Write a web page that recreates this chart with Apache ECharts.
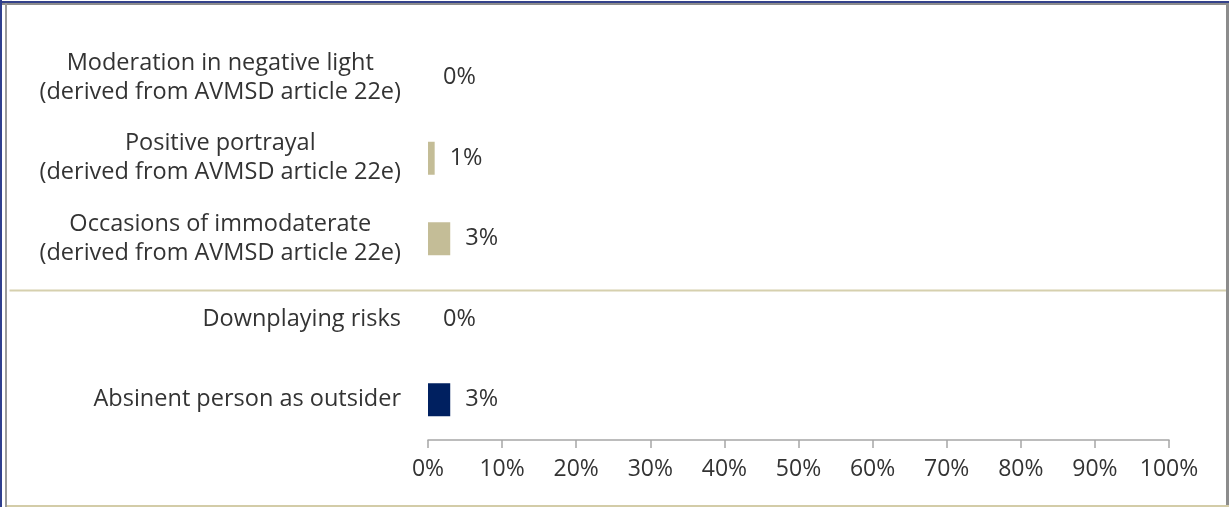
<!DOCTYPE html>
<html>
<head>
<meta charset="utf-8">
<script src="https://cdn.jsdelivr.net/npm/echarts@6/dist/echarts.min.js"></script>
<style>
  html, body { margin: 0; padding: 0; background: #ffffff; }
  #wrap { position: relative; width: 1229px; height: 507px; overflow: hidden; background: #fff; }
  #chart { position: absolute; left: 0; top: 0; width: 1229px; height: 507px; }
  .ln { position: absolute; }
</style>
</head>
<body>
<div id="wrap">
  <div id="chart"></div>
  <div class="ln" style="left:0;top:1px;width:1229px;height:2px;background:#33418a;"></div>
  <div class="ln" style="left:0;top:3px;width:1229px;height:2px;background:#8c8c8c;"></div>
  <div class="ln" style="left:0;top:0;width:2px;height:507px;background:#2f3f8e;"></div>
  <div class="ln" style="left:5px;top:3px;width:2px;height:504px;background:#9a9a9a;"></div>
  <div class="ln" style="left:1226px;top:3px;width:3px;height:504px;background:#8c8c8c;"></div>
  <div class="ln" style="left:7px;top:505px;width:1222px;height:2px;background:#d3cca8;"></div>
</div>
<script>
// ---- data ----
const categories = [
  'Moderation in negative light\n(derived from AVMSD article 22e)',
  'Positive portrayal\n(derived from AVMSD article 22e)',
  'Occasions of immodaterate\n(derived from AVMSD article 22e)',
  'Downplaying risks',
  'Absinent person as outsider'
];
const values = [0, 0.9, 3, 0, 3];
const barColors = ['#c4bd97', '#c4bd97', '#c4bd97', '#002060', '#002060'];
const tickMin = 0, tickMax = 100, tickStep = 10;

const FONT = '"Open Sans", "Liberation Sans", sans-serif';
const TXT = '#333333';
const FS = 23.5;
const FS_TICK = 23;

const chart = echarts.init(document.getElementById('chart'), null, { renderer: 'canvas' });
chart.setOption({
  animation: false,
  backgroundColor: 'transparent',
  textStyle: { fontFamily: FONT },
  grid: { left: 428, right: 60, top: 37.5, bottom: 67, containLabel: false },
  xAxis: {
    type: 'value', min: tickMin, max: tickMax, interval: tickStep,
    axisLine: { show: true, lineStyle: { color: '#a6a6a6', width: 1.5 } },
    axisTick: { show: true, length: 8, inside: false, lineStyle: { color: '#a6a6a6', width: 1.5 } },
    splitLine: { show: false },
    axisLabel: { formatter: '{value}%', fontSize: FS_TICK, color: TXT, fontFamily: FONT, margin: 18 }
  },
  yAxis: {
    type: 'category', inverse: true, data: categories,
    axisLine: { show: false }, axisTick: { show: false }, splitLine: { show: false },
    axisLabel: {
      margin: 27, fontFamily: FONT, fontSize: FS, color: TXT, lineHeight: 29,
      formatter: function (v) {
        return v.split('\n').map(function (s) { return '{c|' + s + '}'; }).join('\n');
      },
      rich: { c: { align: 'center', fontSize: FS, color: TXT, fontFamily: FONT, lineHeight: 29 } }
    }
  },
  series: [{
    type: 'bar',
    barWidth: 33,
    data: values.map(function (v, i) { return { value: v, itemStyle: { color: barColors[i] } }; }),
    label: {
      show: true, position: 'right', distance: 15,
      formatter: function (p) { return Math.round(p.value) + '%'; },
      fontSize: FS, color: TXT, fontFamily: FONT
    }
  }],
  graphic: [{
    type: 'line', left: 7, top: 288, silent: true,
    shape: { x1: 0, y1: 0, x2: 1222, y2: 0 },
    style: { stroke: '#d6d0ae', lineWidth: 2 }
  }]
});
</script>
</body>
</html>
